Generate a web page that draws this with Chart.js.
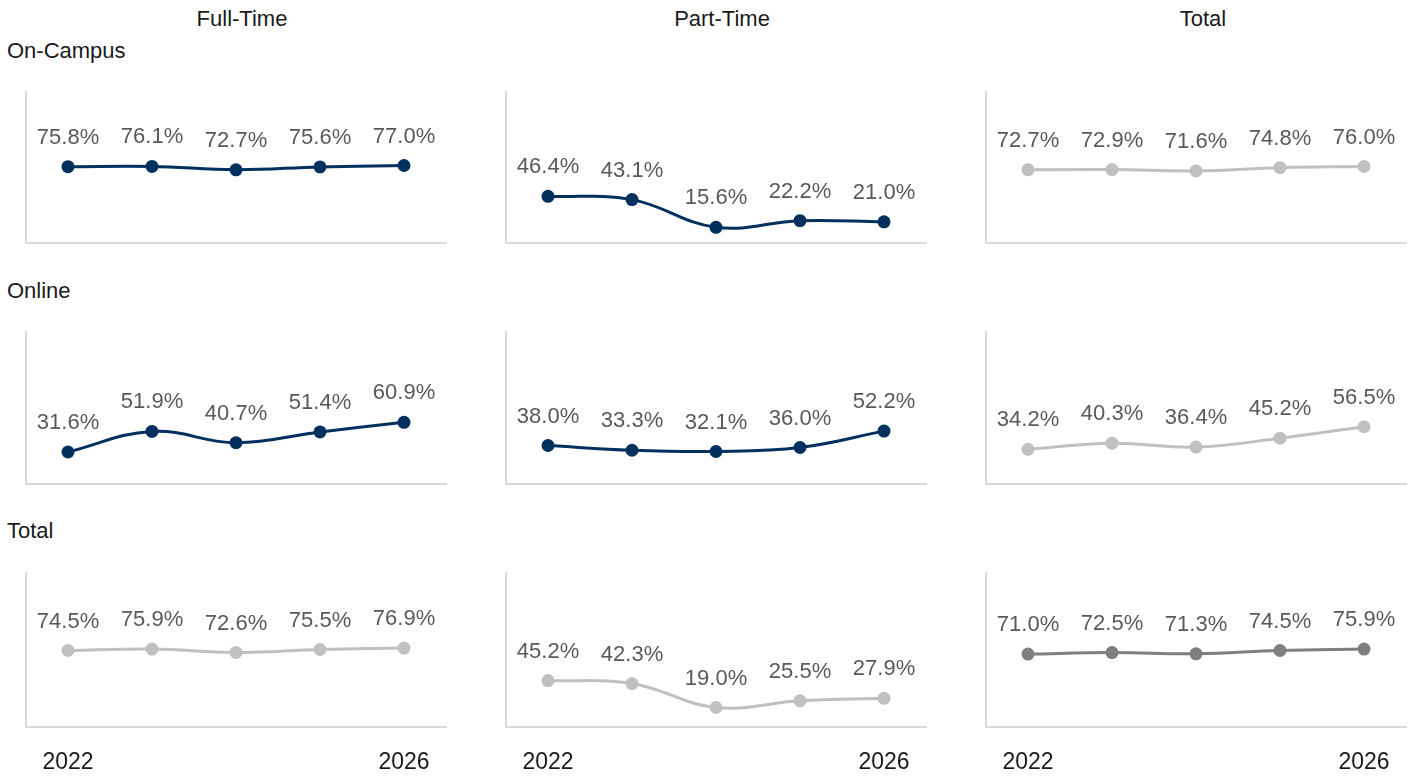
<!DOCTYPE html>
<html>
<head>
<meta charset="utf-8">
<script src="https://cdn.jsdelivr.net/npm/chart.js@4.4.1/dist/chart.umd.min.js"></script>
<style>
  html, body { margin: 0; padding: 0; background: #fff; overflow: hidden; }
  body { width: 1408px; height: 776px; position: relative; font-family: "Liberation Sans", Arial, sans-serif; }
  .title { position: absolute; font-size: 22px; line-height: 22px; color: #1a1a1a; white-space: nowrap; }
  .col { transform: translateX(-50%); }
  .panel { position: absolute; }
</style>
</head>
<body>
<div class="title col" style="left:242px; top:8px;">Full-Time</div>
<div class="title col" style="left:722px; top:8px;">Part-Time</div>
<div class="title col" style="left:1203px; top:8px;">Total</div>
<div class="title" style="left:7px; top:40px;">On-Campus</div>
<div class="title" style="left:7px; top:280px;">Online</div>
<div class="title" style="left:7px; top:520px;">Total</div>

<script>
// années
const years = ['2022', '2023', '2024', '2025', '2026'];

// On-Campus
const onCampusFullTime = [75.8, 76.1, 72.7, 75.6, 77.0];
const onCampusPartTime = [46.4, 43.1, 15.6, 22.2, 21.0];
const onCampusTotal    = [72.7, 72.9, 71.6, 74.8, 76.0];

// Online
const onlineFullTime = [31.6, 51.9, 40.7, 51.4, 60.9];
const onlinePartTime = [38.0, 33.3, 32.1, 36.0, 52.2];
const onlineTotal    = [34.2, 40.3, 36.4, 45.2, 56.5];

// Total
const totalFullTime = [74.5, 75.9, 72.6, 75.5, 76.9];
const totalPartTime = [45.2, 42.3, 19.0, 25.5, 27.9];
const totalTotal    = [71.0, 72.5, 71.3, 74.5, 75.9];

const NAVY = '#00305e';
const LIGHT = '#c0c0c0';
const DARK = '#7f7f7f';

// geometrie des panneaux (zone de trace)
const colLeft = [26, 506, 986];
const rowTop = [92, 332, 573];
const rowBottom = [243, 484, 727];
const areaWidth = 420;

const panels = [
    { row: 0, col: 0, data: onCampusFullTime, color: NAVY },
    { row: 0, col: 1, data: onCampusPartTime, color: NAVY },
    { row: 0, col: 2, data: onCampusTotal, color: LIGHT },
    { row: 1, col: 0, data: onlineFullTime, color: NAVY },
    { row: 1, col: 1, data: onlinePartTime, color: NAVY },
    { row: 1, col: 2, data: onlineTotal, color: LIGHT },
    { row: 2, col: 0, data: totalFullTime, color: LIGHT },
    { row: 2, col: 1, data: totalPartTime, color: LIGHT },
    { row: 2, col: 2, data: totalTotal, color: DARK },
];

// etiquettes au-dessus des points
const pointLabels = {
    id: 'pointLabels',
    afterDatasetsDraw(chart) {
        const ctx = chart.ctx;
        ctx.save();
        ctx.font = '22px "Liberation Sans Narrow", "Arial Narrow", sans-serif';
        ctx.fillStyle = '#595959';
        ctx.textAlign = 'center';
        ctx.textBaseline = 'middle';
        chart.getDatasetMeta(0).data.forEach((pt, i) => {
            const v = chart.data.datasets[0].data[i];
            ctx.fillText(v.toFixed(1) + '%', pt.x, pt.y - 29);
        });
        ctx.restore();
    }
};

const pad = 12;
const tickH = 50;

panels.forEach(p => {
    const isBottom = p.row === 2;
    const areaH = rowBottom[p.row] - rowTop[p.row];
    const div = document.createElement('div');
    div.className = 'panel';
    div.style.left = (colLeft[p.col] - pad) + 'px';
    div.style.top = (rowTop[p.row] - pad) + 'px';
    div.style.width = (areaWidth + pad * 2) + 'px';
    div.style.height = (areaH + pad * 2 + (isBottom ? tickH : 0)) + 'px';
    const canvas = document.createElement('canvas');
    div.appendChild(canvas);
    document.body.appendChild(div);

    new Chart(canvas, {
        type: 'line',
        data: {
            labels: years,
            datasets: [{
                data: p.data,
                borderColor: p.color,
                backgroundColor: p.color,
                borderWidth: 3,
                tension: 0.4,
                pointRadius: 6.5,
                pointHoverRadius: 6.5,
                pointBackgroundColor: p.color,
                pointBorderWidth: 0,
            }]
        },
        options: {
            responsive: true, maintainAspectRatio: false,
            animation: false,
            layout: { padding: pad },
            plugins: { legend: { display: false }, tooltip: { enabled: false } },
            scales: {
                x: {
                    offset: true,
                    grid: { display: false, drawTicks: false, offset: true },
                    border: { display: true, color: '#d9d9d9', width: 2 },
                    ticks: {
                        display: isBottom,
                        autoSkip: false,
                        maxRotation: 0,
                        padding: 22,
                        color: '#1a1a1a',
                        font: { family: '"Liberation Sans", Arial, sans-serif', size: 23 },
                        callback: (v, i, ticks) => (i === 0 || i === ticks.length - 1) ? years[i] : ''
                    },
                    afterFit: s => { s.height = isBottom ? tickH : 0; }
                },
                y: {
                    min: 0, max: 150,
                    grid: { display: false, drawTicks: false },
                    border: { display: true, color: '#d9d9d9', width: 2 },
                    ticks: { display: false },
                    afterFit: s => { s.width = 0; }
                }
            }
        },
        plugins: [pointLabels]
    });
});
</script>
</body>
</html>
